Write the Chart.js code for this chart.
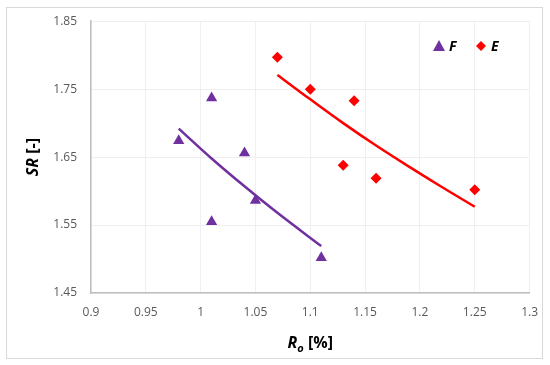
<!DOCTYPE html>
<html><head><meta charset="utf-8">
<script src="https://cdn.jsdelivr.net/npm/chart.js@4"></script>
<style>html,body{margin:0;padding:0;background:#fff}#wrap{width:550px;height:365px}</style>
</head><body><div id="wrap"><canvas id="c" width="550" height="365"></canvas></div>
<script>
const seriesNames = ['F', 'E'];
const fX = [0.98, 1.01, 1.04, 1.01, 1.05, 1.11];
const fY = [1.674, 1.737, 1.656, 1.555, 1.586, 1.502];
const eX = [1.07, 1.10, 1.14, 1.13, 1.16, 1.25];
const eY = [1.797, 1.750, 1.733, 1.638, 1.619, 1.602];
const fTrendX = [0.98, 1.01, 1.04, 1.07, 1.11];
const fTrendY = [1.692, 1.648, 1.607, 1.568, 1.519];
const eTrendX = [1.07, 1.10, 1.13, 1.16, 1.19, 1.22, 1.25];
const eTrendY = [1.771, 1.735, 1.700, 1.667, 1.636, 1.606, 1.577];
const xTicks = ['0.9', '0.95', '1', '1.05', '1.1', '1.15', '1.2', '1.25', '1.3'];
const yTicks = ['1.45', '1.55', '1.65', '1.75', '1.85'];

const PURPLE = '#7030A0', RED = '#FF0000';
const pts = (xs, ys) => xs.map((x, i) => ({x, y: ys[i]}));
const TICKFONT = {family: 'Open Sans', size: 12};

const decor = {
  id: 'decor',
  beforeDraw(chart) {
    const ctx = chart.ctx;
    ctx.save();
    ctx.strokeStyle = '#d9d9d9'; ctx.lineWidth = 1;
    ctx.strokeRect(6.5, 7.5, 536, 351);
    ctx.restore();
  },
  afterDraw(chart) {
    const ctx = chart.ctx, a = chart.chartArea;
    ctx.save();
    ctx.translate(33, (a.top + a.bottom) / 2);
    ctx.rotate(-Math.PI / 2);
    ctx.fillStyle = '#000';
    ctx.textBaseline = 'middle';
    ctx.font = 'italic bold 16px "Open Sans"';
    const t1 = 'SR', t2 = ' [-]';
    const w1 = ctx.measureText(t1).width;
    ctx.font = 'bold 16px "Open Sans"';
    const w2 = ctx.measureText(t2).width;
    let x0 = -(w1 + w2) / 2;
    ctx.font = 'italic bold 16px "Open Sans"';
    ctx.textAlign = 'left';
    ctx.fillText(t1, x0, 0);
    ctx.font = 'bold 16px "Open Sans"';
    ctx.fillText(t2, x0 + w1, 0);
    ctx.restore();
    ctx.save();
    ctx.fillStyle = '#000';
    ctx.textBaseline = 'alphabetic';
    ctx.textAlign = 'left';
    const cx = (a.left + a.right) / 2, by = 348;
    ctx.font = 'italic bold 16px "Open Sans"';
    const r = 'R'; const wr = ctx.measureText(r).width;
    ctx.font = 'italic bold 11px "Open Sans"';
    const o = 'o'; const wo = ctx.measureText(o).width;
    ctx.font = 'bold 16px "Open Sans"';
    const p = ' [%]'; const wp = ctx.measureText(p).width;
    let sx = cx - (wr + wo + wp) / 2;
    ctx.font = 'italic bold 16px "Open Sans"'; ctx.fillText(r, sx, by);
    ctx.font = 'italic bold 11px "Open Sans"'; ctx.fillText(o, sx + wr, by + 4);
    ctx.font = 'bold 16px "Open Sans"'; ctx.fillText(p, sx + wr + wo, by);
    ctx.restore();
    ctx.save();
    const ly = 46;
    ctx.fillStyle = PURPLE;
    ctx.beginPath();
    ctx.moveTo(439, ly - 6); ctx.lineTo(445, ly + 5); ctx.lineTo(433, ly + 5); ctx.closePath(); ctx.fill();
    ctx.fillStyle = RED;
    ctx.beginPath();
    ctx.moveTo(481, ly - 5); ctx.lineTo(486, ly); ctx.lineTo(481, ly + 5); ctx.lineTo(476, ly); ctx.closePath(); ctx.fill();
    ctx.fillStyle = '#000';
    ctx.font = 'italic bold 14px "Open Sans"';
    ctx.textBaseline = 'middle';
    ctx.fillText(seriesNames[0], 449, ly + 1);
    ctx.fillText(seriesNames[1], 491, ly + 1);
    ctx.restore();
  }
};

new Chart(document.getElementById('c'), {
  type: 'scatter',
  data: {
    datasets: [
      {label: seriesNames[0], data: pts(fX, fY), pointStyle: 'triangle', pointRadius: 6.5, pointHoverRadius: 6.5,
       backgroundColor: PURPLE, borderColor: PURPLE, borderWidth: 0, showLine: false, order: 1},
      {label: seriesNames[1], data: pts(eX, eY), pointStyle: 'rectRot', pointRadius: 5.5, pointHoverRadius: 5.5,
       backgroundColor: RED, borderColor: RED, borderWidth: 0, showLine: false, order: 1},
      {label: 'F trend', data: pts(fTrendX, fTrendY), showLine: true, pointRadius: 0, borderColor: PURPLE,
       borderWidth: 2.5, tension: 0.4, fill: false, order: 2},
      {label: 'E trend', data: pts(eTrendX, eTrendY), showLine: true, pointRadius: 0, borderColor: RED,
       borderWidth: 2.5, tension: 0.4, fill: false, order: 2}
    ]
  },
  options: {
    responsive: false,
    animation: false,
    layout: {padding: {top: 16, right: 20, left: 0, bottom: 0}},
    plugins: {legend: {display: false}, tooltip: {enabled: false}},
    scales: {
      x: {
        type: 'linear', min: 0.9, max: 1.3,
        afterBuildTicks: s => { s.ticks = xTicks.map(t => ({value: parseFloat(t)})); },
        afterFit: s => { s.height = 72; },
        ticks: {color: '#595959', font: TICKFONT, padding: 12, maxRotation: 0,
                callback: (v, i) => xTicks[i]},
        grid: {color: '#efefef', drawTicks: false, lineWidth: 1},
        border: {color: '#bfbfbf', width: 1.5}
      },
      y: {
        type: 'linear', min: 1.45, max: 1.85,
        afterBuildTicks: s => { s.ticks = yTicks.map(t => ({value: parseFloat(t)})); },
        afterFit: s => { s.width = 91; },
        ticks: {color: '#595959', font: TICKFONT, padding: 14,
                callback: (v, i) => yTicks[i]},
        grid: {color: '#efefef', drawTicks: false, lineWidth: 1},
        border: {color: '#bfbfbf', width: 1.5}
      }
    }
  },
  plugins: [decor]
});
</script></body></html>
